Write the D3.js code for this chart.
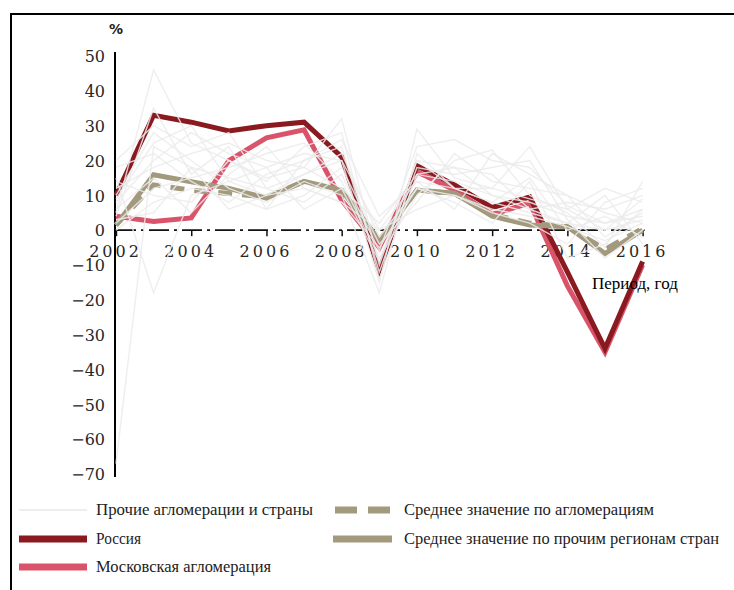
<!DOCTYPE html>
<html><head><meta charset="utf-8">
<script src="https://cdn.jsdelivr.net/npm/d3@7"></script>
<style>body{margin:0;background:#fff}svg{display:block}</style>
</head><body>
<svg id="c" width="734" height="590"></svg>
<script>
const years = [2002,2003,2004,2005,2006,2007,2008,2009,2010,2011,2012,2013,2014,2015,2016];
const xTickYears = [2002,2004,2006,2008,2010,2012,2014,2016];
const yTicks = [50,40,30,20,10,0,-10,-20,-30,-40,-50,-60,-70];

const russia   = [10, 33, 31, 28.5, 30, 31, 21, -11.5, 18.5, 13, 6.5, 9.5, -12, -34, -9];
const moscow   = [4, 2.5, 3.5, 20, 26.5, 28.8, 8.6, -5, 16.8, 11.5, 4.5, 7.8, -16, -35, -10];
const avgAggl  = [1.5, 13, 11.5, 10.5, 9.5, 14, 11, -3, 11.5, 10.5, 4.5, 2, 1, -5.5, 0.5];
const avgOther = [1.4, 15.9, 13.9, 12, 9.2, 14, 11.5, -3, 11.5, 10.6, 4, 1.5, 1, -6.7, 0];

const other1  = [-67, 24, 18, 15, 12, 16, 20, 0, 14, 12, 8, 5, 2, 0, 3];
const other2  = [15, -18, 10, 14, 10, 12, 8, -5, 12, 10, 6, 4, 1, -3, 2];
const other3  = [5, 46, 25, 20, 15, 18, 32, -10, 20, 18, 10, 8, 4, 2, 6];
const other4  = [8, 20, 28, 22, 18, 22, 20, -15, 29, 15, 12, 24, 6, 12, 8];
const other5  = [2, 12, 15, 18, 22, 25, 14, -8, 10, 20, 23, 10, 5, -5, 14];
const other6  = [10, 28, 20, 12, 8, 14, 10, -18, 22, 12, 8, 15, 0, 4, -2];
const other7  = [12, 18, 22, 25, 20, 18, 12, 2, 16, 14, 10, 6, 8, 6, 10];
const other8  = [0, 8, 12, 10, 6, 10, 18, -4, 8, 22, 14, 12, 10, -2, 5];
const other9  = [18, 22, 14, 8, 16, 20, 24, -12, 18, 16, 18, 20, 3, -8, 0];
const other10 = [6, 15, 5, 16, 24, 12, 8, 0, 6, 10, 5, 2, -4, 8, 12];
const other11 = [20, 30, 24, 28, 12, 8, 16, -6, 24, 26, 20, 18, 7, 2, 4];
const other12 = [3, 5, 18, 6, 10, 16, 22, -2, 12, 8, 2, 14, -8, -4, 6];
const other13 = [14, 10, 8, 20, 14, 24, 28, -14, 16, 18, 16, 6, 2, 10, -4];
const other14 = [9, 25, 30, 14, 18, 6, 12, -9, 20, 12, 12, 9, 6, 0, 9];
const other15 = [4, 35, 16, 24, 6, 20, 26, 4, 14, 6, 22, 16, 10, 5, 2];
const others = [other1,other2,other3,other4,other5,other6,other7,other8,other9,other10,other11,other12,other13,other14,other15];

const legendLabels = ["Прочие агломерации  и страны","Россия","Московская агломерация",
  "Среднее значение по агломерациям","Среднее значение по прочим регионам стран"];

const C = {russia:"#8a1a20", moscow:"#d9546b", khaki:"#a39a7e", gray:"#ebebeb"};

const svg = d3.select("#c");
svg.append("rect").attr("x",11).attr("y",14).attr("width",800).attr("height",700)
  .attr("fill","none").attr("stroke","#000").attr("stroke-width",2);

const x = d3.scaleLinear().domain([2002,2016]).range([116,642.6]);
const y = d3.scaleLinear().domain([-70,50]).range([474,56]);

const line = d3.line().x((d,i)=>x(years[i])).y(d=>y(d));

// y axis
const yAx = svg.append("g").attr("transform","translate(115,0)")
  .call(d3.axisLeft(y).tickValues(yTicks).tickSize(0).tickPadding(10));
yAx.select(".domain").remove();
yAx.selectAll("text").attr("font-family","DejaVu Serif").attr("font-size",16)
  .attr("fill","#262626").attr("dy","0.36em");
svg.append("line").attr("x1",115).attr("x2",115).attr("y1",52).attr("y2",477)
  .attr("stroke","#000").attr("stroke-width",2);

// zero line (dash-dot)
svg.append("line").attr("x1",x(2002)).attr("x2",x(2016)+2).attr("y1",y(0)).attr("y2",y(0))
  .attr("stroke","#111").attr("stroke-width",1.6).attr("stroke-dasharray","20,5,3,5");

// x axis ticks + labels
const xAx = svg.append("g").attr("transform",`translate(0,${y(0)})`)
  .call(d3.axisBottom(x).tickValues(xTickYears).tickFormat(d3.format("d")).tickSize(6).tickPadding(9));
xAx.select(".domain").remove();
xAx.selectAll(".tick line").attr("stroke","#111").attr("stroke-width",1.5);
xAx.selectAll("text").attr("font-family","DejaVu Serif").attr("font-size",16)
  .attr("fill","#262626").attr("letter-spacing","3px").attr("dx","-1px");

// main series
svg.append("path").datum(moscow).attr("d",line).attr("fill","none")
  .attr("stroke",C.moscow).attr("stroke-width",5).attr("stroke-linejoin","miter");
svg.append("path").datum(russia).attr("d",line).attr("fill","none")
  .attr("stroke",C.russia).attr("stroke-width",5).attr("stroke-linejoin","miter");
svg.append("path").datum(avgAggl).attr("d",line).attr("fill","none")
  .attr("stroke",C.khaki).attr("stroke-width",5).attr("stroke-dasharray","14,10");
svg.append("path").datum(avgOther).attr("d",line).attr("fill","none")
  .attr("stroke",C.khaki).attr("stroke-width",5).attr("stroke-linejoin","miter");

// other agglomerations on top (faint)
svg.append("g").selectAll("path").data(others).join("path")
  .attr("d",line).attr("fill","none").attr("stroke",C.gray).attr("stroke-width",1.4)
  .attr("opacity",0.85);

// labels
svg.append("text").attr("x",116).attr("y",34).attr("text-anchor","middle")
  .attr("font-family","DejaVu Sans").attr("font-weight","bold").attr("font-size",14)
  .attr("fill","#222").text("%");
svg.append("text").attr("x",592).attr("y",289).attr("font-family","Liberation Serif")
  .attr("font-size",17).attr("fill","#000").text("Период, год");

// legend
const leg = [
  {lab:legendLabels[0], x:19, y:510, col:"#eeeeee", w:2, dash:null, tl:217},
  {lab:legendLabels[1], x:19, y:539, col:C.russia, w:7, dash:null, tl:45},
  {lab:legendLabels[2], x:19, y:567, col:C.moscow, w:7, dash:null, tl:175},
  {lab:legendLabels[3], x:335, y:510, col:C.khaki, w:7, dash:"22,11", tl:250},
  {lab:legendLabels[4], x:333, y:539, col:C.khaki, w:7, dash:null, tl:315}
];
const lg = svg.append("g").selectAll("g").data(leg).join("g");
lg.append("line").attr("x1",d=>d.x).attr("x2",d=>d.x+(d.x>300?59:68))
  .attr("y1",d=>d.y).attr("y2",d=>d.y).attr("stroke",d=>d.col).attr("stroke-width",d=>d.w)
  .attr("stroke-dasharray",d=>d.dash);
lg.append("text").attr("x",d=>d.x>300?404:96).attr("y",d=>d.y+5)
  .attr("font-family","Liberation Serif").attr("font-size",16).attr("fill","#222")
  .attr("textLength",d=>d.tl).attr("lengthAdjust","spacingAndGlyphs").text(d=>d.lab);
</script>
</body></html>
